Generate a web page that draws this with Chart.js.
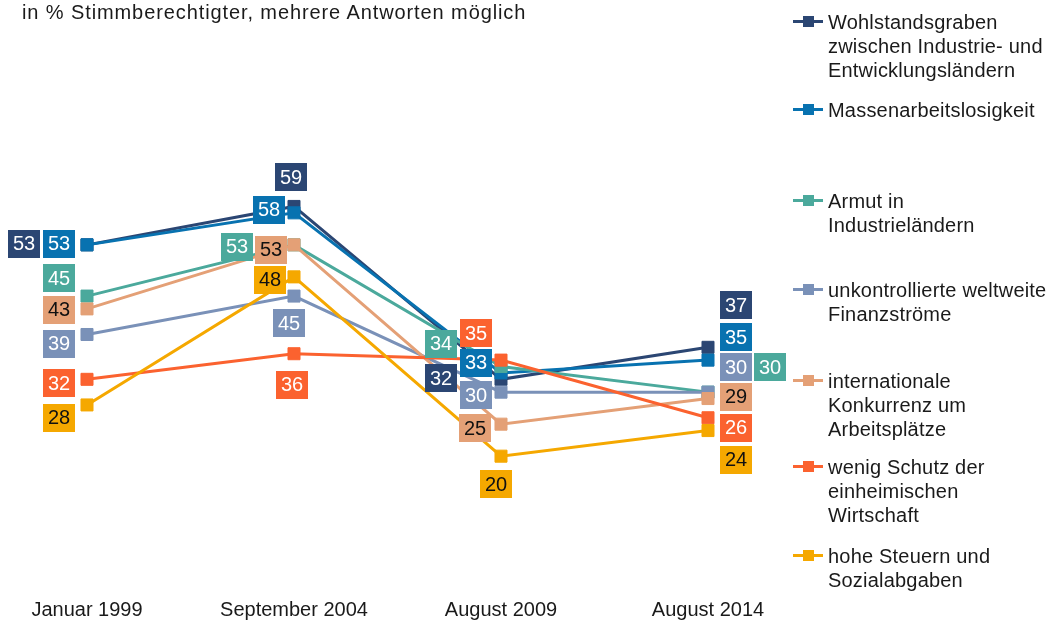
<!DOCTYPE html>
<html>
<head>
<meta charset="utf-8">
<script src="https://cdn.jsdelivr.net/npm/chart.js@4/dist/chart.umd.min.js"></script>
<style>
  html, body { margin: 0; padding: 0; background: #fff; }
  #wrap { position: relative; width: 1047px; height: 622px; overflow: hidden; font-family: "Liberation Sans", Arial, sans-serif; }
  #chartBox { position: absolute; left: 0; top: 0; width: 1047px; height: 622px; }
  #title { position: absolute; left: 22px; top: 0px; font-size: 20px; line-height: 24px; letter-spacing: 0.9px; color: #1a1a1a; white-space: nowrap; }
  .lg { position: absolute; left: 793px; font-size: 20px; line-height: 24px; letter-spacing: 0.2px; color: #1a1a1a; }
  .lg .mk { position: absolute; left: 0; top: 10px; width: 30px; height: 3px; }
  .lg .sq { position: absolute; left: 10px; top: 6px; width: 11px; height: 11px; }
  .lg .tx { margin-left: 35px; white-space: nowrap; }
</style>
</head>
<body>
<div id="wrap">
  <div id="chartBox"><canvas id="c"></canvas></div>
  <div id="title">in % Stimmberechtigter, mehrere Antworten möglich</div>
  <div id="legend"></div>
</div>
<script>
// ---- data ----
const categories = ["Januar 1999", "September 2004", "August 2009", "August 2014"];
const wohlstandsgraben = [53, 59, 32, 37];
const massenarbeitslosigkeit = [53, 58, 33, 35];
const armut = [45, 53, 34, 30];
const finanzstroeme = [39, 45, 30, 30];
const konkurrenz = [43, 53, 25, 29];
const schutz = [32, 36, 35, 26];
const steuern = [28, 48, 20, 24];

const seriesNames = [
  ["Wohlstandsgraben", "zwischen Industrie- und", "Entwicklungsländern"],
  ["Massenarbeitslosigkeit"],
  ["Armut in", "Industrieländern"],
  ["unkontrollierte weltweite", "Finanzströme"],
  ["internationale", "Konkurrenz um", "Arbeitsplätze"],
  ["wenig Schutz der", "einheimischen", "Wirtschaft"],
  ["hohe Steuern und", "Sozialabgaben"]
];
const seriesValues = [wohlstandsgraben, massenarbeitslosigkeit, armut, finanzstroeme, konkurrenz, schutz, steuern];

// ---- styles ----
const colors = ["#2B4673", "#0872B0", "#4BA99C", "#7A91B8", "#E4A076", "#FB622F", "#F5A800"];
const labelTextColors = ["#fff", "#fff", "#fff", "#fff", "#111", "#fff", "#111"];
// label box offsets (px) relative to each point
const labelOffsets = [
  [[-63, -1], [-3, -29], [-60, -1], [28, -42]],
  [[-28, -1], [-25, -3], [-25, -10], [28, -23]],
  [[-28, -18], [-57, 2], [-60, -23], [62, -25]],
  [[-28, 9], [-5, 27], [-25, 3], [28, -25]],
  [[-28, 1], [-23, 5], [-26, 4], [28, -2]],
  [[-28, 4], [-2, 31], [-25, -27], [28, 10]],
  [[-28, 13], [-24, 3], [-5, 28], [28, 29]]
];
const legendTops = [10, 98, 189, 278, 369, 455, 544];

const FONT = '"Liberation Sans", Arial, sans-serif';

const labelPlugin = {
  id: 'boxLabels',
  afterDatasetsDraw(chart) {
    const ctx = chart.ctx;
    ctx.save();
    ctx.font = '20px ' + FONT;
    ctx.textAlign = 'center';
    ctx.textBaseline = 'middle';
    chart.data.datasets.forEach((ds, i) => {
      const meta = chart.getDatasetMeta(i);
      meta.data.forEach((pt, j) => {
        const off = labelOffsets[i][j];
        const cx = pt.x + off[0], cy = pt.y + off[1];
        ctx.fillStyle = colors[i];
        ctx.fillRect(Math.round(cx - 16), Math.round(cy - 14), 32, 28);
        ctx.fillStyle = labelTextColors[i];
        ctx.fillText(String(ds.data[j]), cx, cy + 1);
      });
    });
    ctx.restore();
  }
};

const datasets = seriesValues.map((vals, i) => ({
  label: seriesNames[i].join(' '),
  data: vals,
  borderColor: colors[i],
  backgroundColor: colors[i],
  borderWidth: 3,
  tension: 0,
  pointStyle: 'rect',
  pointRadius: 8.5,
  pointHoverRadius: 8.5,
  pointBorderWidth: 1,
  pointBorderColor: colors[i],
  pointBackgroundColor: colors[i],
  order: seriesValues.length - i
}));

new Chart(document.getElementById('c'), {
  type: 'line',
  data: { labels: categories, datasets },
  options: {
    responsive: true,
    maintainAspectRatio: false,
    animation: false,
    devicePixelRatio: 1,
    layout: { padding: { top: 136, left: 87, right: 339, bottom: 0 } },
    plugins: { legend: { display: false }, tooltip: { enabled: false } },
    scales: {
      x: {
        offset: false,
        grid: { display: false },
        border: { display: false },
        ticks: { color: '#1a1a1a', font: { size: 20, family: FONT }, padding: 0, maxRotation: 0, autoSkip: false }
      },
      y: { display: false, min: -0.9, max: 70 }
    }
  },
  plugins: [labelPlugin]
});

// ---- legend (HTML) ----
const lg = document.getElementById('legend');
seriesNames.forEach((lines, i) => {
  const d = document.createElement('div');
  d.className = 'lg';
  d.style.top = legendTops[i] + 'px';
  d.innerHTML = '<div class="mk" style="background:' + colors[i] + '"></div>' +
                '<div class="sq" style="background:' + colors[i] + '"></div>' +
                '<div class="tx">' + lines.join('<br>') + '</div>';
  lg.appendChild(d);
});
</script>
</body>
</html>
